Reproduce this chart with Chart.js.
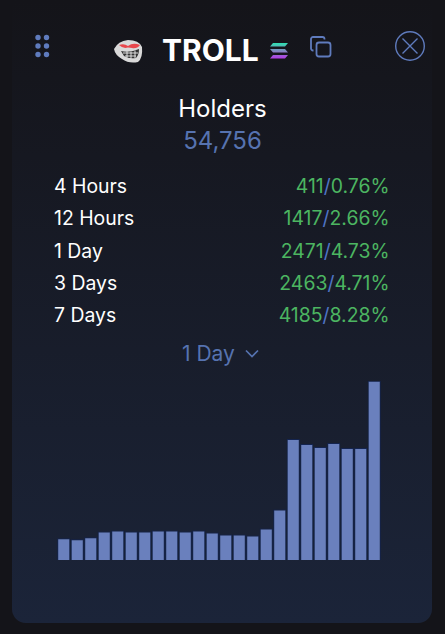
<!DOCTYPE html>
<html><head><meta charset="utf-8">
<script src="https://cdn.jsdelivr.net/npm/chart.js@4"></script>
<style>
html,body{margin:0;padding:0;width:445px;height:634px;overflow:hidden;background:#141419;font-family:Inter,sans-serif}
#panel{position:absolute;left:12px;top:0;width:420px;height:623px;border-radius:0 0 14px 14px;background:linear-gradient(180deg,#141419 0%,#161821 25%,#1b2439 100%)}
.t{position:absolute;white-space:nowrap;line-height:1}
.row{position:absolute;left:54px;width:335.5px;font-size:19.4px;line-height:22px;color:#fff;display:flex;justify-content:space-between}
.g{color:#4cb561}.s{color:#4f74c4}
#wrap{position:absolute;left:57px;top:371px;width:324px;height:189px}
svg{position:absolute;overflow:visible}
</style></head><body>
<div id="panel"></div>
<svg style="left:35px;top:34px" width="15" height="24" fill="#5f7bbd"><circle cx="3" cy="3.5" r="2.7"/><circle cx="11.5" cy="3.5" r="2.7"/><circle cx="3" cy="12" r="2.7"/><circle cx="11.5" cy="12" r="2.7"/><circle cx="3" cy="20.5" r="2.7"/><circle cx="11.5" cy="20.5" r="2.7"/></svg>
<svg style="left:113px;top:38px" width="32" height="26"><path d="M1 11 Q5 3 15 2 Q26 2 29 9 Q30 20 25 24 Q16 26 9 21 Q2 17 1 11Z" fill="#d9d9d9"/><path d="M6 7 Q11 5 15 8 Q20 4 27 7 Q24 11 19 10 L15 9.5 Q10 11 6 7Z" fill="#e8474c"/><path d="M8 13 Q17 15 26 11 Q26 17 23 20 Q15 21 11 18Z" fill="#333"/><path d="M10 15H25M12 18H23M14 13.5V20M18 13.5V20.5M22 12.5V20" stroke="#eee" stroke-width=".9"/></svg>
<div class="t" style="left:162px;top:35px;font-size:30px;font-weight:700;color:#fff">TROLL</div>
<svg style="left:270px;top:43px" width="19" height="16"><defs><linearGradient id="sg" x1="0" y1="0" x2="0" y2="1"><stop offset="0" stop-color="#2ee0b0"/><stop offset=".5" stop-color="#7f8ac0"/><stop offset="1" stop-color="#b43be8"/></linearGradient></defs><path d="M3 0H18L15 3.5H0ZM0 6H15L18 9.5H3ZM3 12H18L15 15.5H0Z" fill="url(#sg)"/></svg>
<svg style="left:310px;top:36px" width="22" height="22" fill="none" stroke="#5f7bbd" stroke-width="1.8"><rect x="6.5" y="6.5" width="14" height="14" rx="2.5"/><path d="M3.5 14.5H3A2 2 0 0 1 1 12.5V3A2 2 0 0 1 3 1H12.5A2 2 0 0 1 14.5 3V3.5"/></svg>
<svg style="left:395px;top:31px" width="30" height="30" fill="none" stroke="#5f7bbd" stroke-width="1.4"><circle cx="15" cy="15" r="14.3"/><path d="M7.5 7.5L22.5 22.5M22.5 7.5L7.5 22.5"/></svg>
<div class="t" style="left:0;width:445px;text-align:center;top:97px;font-size:24px;color:#fff">Holders</div>
<div class="t" style="left:0;width:445px;text-align:center;top:129px;font-size:24px;color:#5673b0">54,756</div>
<div id="rows"></div>
<div class="t" style="left:182px;top:343px;font-size:21px;color:#5673b0">1 Day</div>
<svg style="left:245px;top:349px" width="14" height="9" fill="none" stroke="#5673b0" stroke-width="1.7"><path d="M1 1.5L7 7.5L13 1.5"/></svg>
<div id="wrap"><canvas id="c"></canvas></div>
<script>
const periods=["4 Hours","12 Hours","1 Day","3 Days","7 Days"];
const counts=["411","1417","2471","2463","4185"];
const percents=["0.76%","2.66%","4.73%","4.71%","8.28%"];
const rowTops=[175,207,240,272,304];
const categories=["1","2","3","4","5","6","7","8","9","10","11","12","13","14","15","16","17","18","19","20","21","22","23","24"];
const holders=[21.7,20.7,22.7,28.3,29.3,28.3,28.3,29.3,29.3,28.3,29.3,27.3,25.3,25.3,24.3,31.3,50.3,120.3,115.3,112.3,116.3,111.3,111.3,178.3];
document.getElementById('rows').innerHTML=periods.map((p,i)=>`<div class="row" style="top:${rowTops[i]}px"><span>${p}</span><span><span class="g">${counts[i]}</span><span class="s">/</span><span class="g">${percents[i]}</span></span></div>`).join('');
new Chart(document.getElementById('c'),{type:'bar',data:{labels:categories,datasets:[{data:holders,backgroundColor:'#6a80bd',borderColor:'#14244f',borderWidth:1,barPercentage:1,categoryPercentage:.97}]},
options:{responsive:true,maintainAspectRatio:false,animation:false,layout:{padding:0},plugins:{legend:{display:false},tooltip:{enabled:false}},
scales:{x:{display:false},y:{display:false,min:0,max:188}}}});
</script>
</body></html>
